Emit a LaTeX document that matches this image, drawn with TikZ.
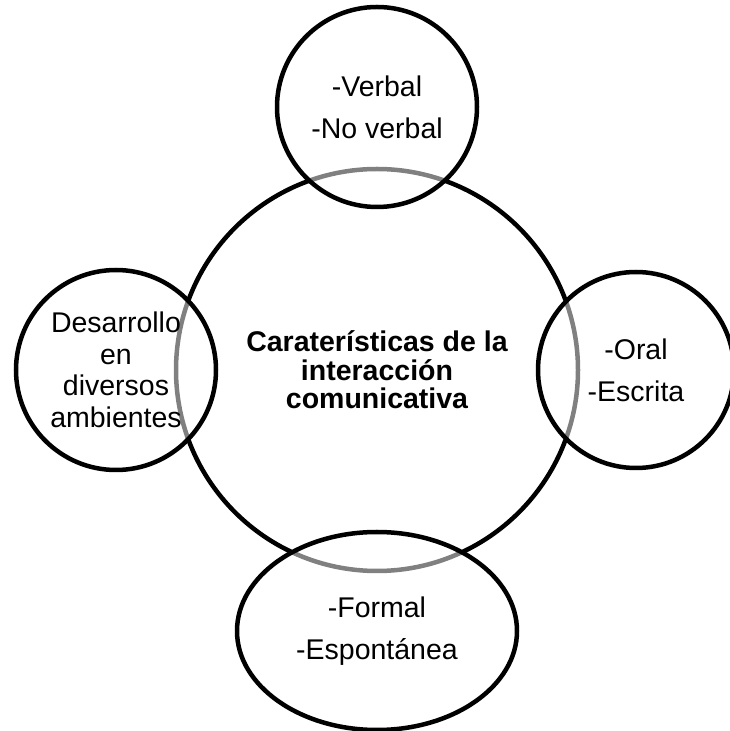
\documentclass[tikz,border=0pt]{standalone}
\usepackage{fontspec}
\setmainfont{Liberation Sans}
\usetikzlibrary{positioning,shapes}

\begin{document}
\begin{tikzpicture}[x=1pt,y=1pt]
	\tikzstyle{big}=[draw, circle, line width=4.5pt, minimum size=402pt, inner sep=0pt, outer sep=0pt, align=center, font=\fontsize{28.5}{28.5}\selectfont\bfseries]
	\tikzstyle{circ}=[draw, circle, line width=4.5pt, fill=white, fill opacity=0.5, text opacity=1, inner sep=0pt, outer sep=0pt, align=center, font=\fontsize{28.5}{42}\selectfont]
	\tikzstyle{ellip}=[circ, ellipse, minimum width=280pt, minimum height=198pt]

	\useasboundingbox (0,0) rectangle (729,731);
	\node[big] (carac) at (377,361) {Caraterísticas de la\\interacción\\comunicativa};
	\node[circ, minimum size=200pt] (forma) [above=-38pt of carac] {-Verbal\\-No verbal};
	\node[circ, minimum size=200pt, font=\fontsize{28.5}{31.5}\selectfont] (ambiente) [left=-40pt of carac] {Desarrollo\\en\\diversos\\ambientes};
	\node[circ, minimum size=196pt] (canal) [right=-40pt of carac] {-Oral\\-Escrita};
	\node[ellip] (registro) [below=-39pt of carac] {-Formal\\-Espontánea};
\end{tikzpicture}
\end{document}
